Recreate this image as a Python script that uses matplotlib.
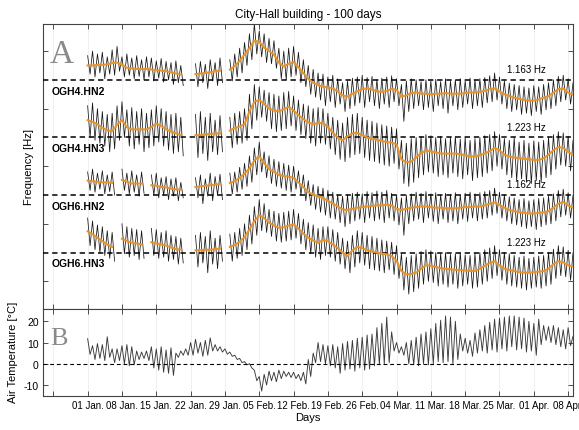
#!/usr/bin/env python3
"""City-Hall building: 100 days of modal frequencies and air temperature."""
import numpy as np
import matplotlib
matplotlib.use('Agg')
import matplotlib.pyplot as plt

nan = np.nan

DAY_TICKS = [-7, 0, 7, 14, 21, 28, 35, 42, 49, 56, 63, 70, 77, 84, 91, 98]
DAY_LABELS = ['', '01 Jan.', '08 Jan.', '15 Jan.', '22 Jan.', '29 Jan.', '05 Feb.',
              '12 Feb.', '19 Feb.', '26 Feb.', '04 Mar.', '11 Mar.', '18 Mar.',
              '25 Mar.', '01 Apr.', '08 Apr.']

STATIONS = ['OGH4.HN2', 'OGH4.HN3', 'OGH6.HN2', 'OGH6.HN3']
REF_FREQ = ['1.163 Hz', '1.223 Hz', '1.162 Hz', '1.223 Hz']

# frequency shift relative to the reference value (one tick = 1 unit), day by day
HN2_4_SMOOTH = [.25, .25, .26, .26, .27, .29, .30, .26, .21, .20,
                .19, .19, .19, .18, .17, .16, .15, .13, .11, .09,
                nan, nan, .10, .11, .12, .13, .15, .16, nan, .18,
                .24, .33, .44, .55, .68, .66, .56, .50, .44, .30,
                .23, .28, .31, .22, .12, .02, -.05, -.09, -.12, -.13,
                -.15, -.20, -.27, -.29, -.24, -.20, -.16, -.15, -.17, -.20,
                -.21, -.19, -.16, -.17, -.29, -.27, -.23, -.22, -.24, -.24,
                -.25, -.24, -.24, -.23, -.24, -.24, -.24, -.23, -.22, -.22,
                -.21, -.19, -.16, -.15, -.20, -.25, -.28, -.31, -.33, -.35,
                -.36, -.36, -.34, -.31, -.28, -.22, -.16, -.15, -.22, -.26]
HN2_4_HIGH = [.42, .50, .45, .48, .40, .52, .58, .40, .45, .38,
              .42, .35, .40, .38, .33, .37, .32, .30, .33, .25,
              nan, nan, .28, .32, .27, .35, .30, .38, nan, .35,
              .45, .55, .65, .80, .98, .85, .80, .72, .68, .55,
              .50, .55, .58, .48, .35, .25, .18, .12, .10, .05,
              .08, .02, -.05, -.02, .03, .05, .08, .04, .06, .00,
              .03, .05, .07, .02, -.08, -.02, .02, .00, -.03, .00,
              -.02, .01, -.03, .02, -.02, .00, .02, -.02, .03, .00,
              .02, .04, .07, .12, .05, -.02, -.06, -.08, -.10, -.12,
              -.14, -.10, -.12, -.08, -.05, .00, .06, .08, .02, -.05]
HN2_4_LOW = [.10, .05, .12, .02, .10, .08, .15, .05, .08, .02,
             .06, .00, .05, -.02, .03, -.04, .00, -.08, -.05, -.10,
             nan, nan, -.12, -.05, -.15, -.02, -.10, -.05, nan, -.02,
             .05, .12, .25, .35, .45, .40, .30, .28, .20, .02,
             .00, .05, .08, -.05, -.12, -.25, -.30, -.35, -.45, -.38,
             -.48, -.42, -.55, -.50, -.45, -.40, -.48, -.38, -.45, -.50,
             -.42, -.48, -.38, -.45, -.72, -.55, -.50, -.45, -.52, -.48,
             -.55, -.45, -.50, -.58, -.45, -.52, -.48, -.42, -.50, -.45,
             -.48, -.40, -.38, -.35, -.42, -.50, -.55, -.52, -.60, -.58,
             -.62, -.55, -.60, -.52, -.50, -.45, -.38, -.35, -.42, -.45]

HN3_4_SMOOTH = [.30, .27, .23, .17, .12, .11, .22, .30, .18, .14,
                .14, .14, .14, .18, .24, .20, .14, .10, .07, .04,
                nan, nan, .04, .04, .05, .06, .07, .07, nan, .12,
                .16, .19, .23, .45, .62, .65, .58, .50, .47, .45,
                .49, .53, .47, .39, .32, .26, .23, .25, .25, .18,
                .08, .00, -.05, .02, .07, .08, .04, .00, -.02, -.04,
                -.06, -.08, -.09, -.12, -.38, -.43, -.42, -.35, -.27, -.23,
                -.24, -.26, -.28, -.28, -.28, -.28, -.29, -.31, -.33, -.33,
                -.31, -.28, -.24, -.18, -.22, -.30, -.33, -.35, -.36, -.37,
                -.38, -.39, -.39, -.36, -.30, -.22, -.17, -.18, -.25, -.30]
HN3_4_HIGH = [.55, .60, .50, .45, .40, .42, .55, .62, .48, .52,
              .45, .50, .42, .48, .55, .50, .45, .40, .42, .35,
              nan, nan, .40, .45, .35, .42, .30, .38, nan, .35,
              .42, .45, .50, .75, .92, .88, .82, .78, .75, .72,
              .78, .80, .72, .65, .58, .55, .50, .52, .50, .42,
              .35, .30, .25, .35, .40, .42, .35, .30, .28, .25,
              .22, .20, .18, .15, -.05, -.10, -.02, .00, .02, .05,
              .03, .00, .02, -.02, .00, .02, -.03, .00, -.05, -.02,
              .00, .03, .05, .10, .05, -.02, -.05, .00, -.08, -.05,
              -.10, -.06, -.08, -.05, .00, .05, .10, .08, .02, -.05]
HN3_4_LOW = [.00, -.05, -.10, -.15, -.25, -.20, -.05, .00, -.15, -.20,
             -.12, -.25, -.18, -.15, -.08, -.15, -.22, -.28, -.25, -.32,
             nan, nan, -.35, -.28, -.40, -.25, -.30, -.25, nan, -.18,
             -.12, -.10, -.05, .15, .30, .35, .28, .15, .10, .12,
             .15, .20, .12, .05, -.02, -.10, -.15, -.10, -.12, -.20,
             -.30, -.38, -.42, -.35, -.30, -.28, -.35, -.40, -.42, -.45,
             -.48, -.50, -.45, -.55, -.80, -.85, -.78, -.70, -.65, -.60,
             -.62, -.68, -.65, -.70, -.62, -.68, -.72, -.65, -.75, -.70,
             -.68, -.62, -.58, -.50, -.55, -.65, -.70, -.75, -.72, -.78,
             -.80, -.75, -.78, -.70, -.65, -.55, -.48, -.50, -.58, -.62]

HN2_6_SMOOTH = [.25, .24, .23, .22, .22, .21, nan, .26, .23, .20,
                .20, .20, nan, .17, .16, .14, .13, .11, .10, .09,
                nan, nan, .14, .15, .16, .17, .18, .19, nan, .21,
                .24, .30, .37, .46, .60, .68, .55, .45, .40, .35,
                .33, .32, .30, .22, .14, .05, .00, -.02, -.05, -.10,
                -.15, -.20, -.25, -.26, -.24, -.22, -.21, -.20, -.19, -.18,
                -.18, -.17, -.18, -.24, -.26, -.24, -.22, -.21, -.20, -.20,
                -.21, -.22, -.22, -.23, -.23, -.23, -.22, -.21, -.21, -.20,
                -.20, -.18, -.15, -.13, -.17, -.22, -.26, -.28, -.30, -.31,
                -.32, -.32, -.31, -.30, -.28, -.22, -.15, -.12, -.18, -.22]
HN2_6_HIGH = [.40, .45, .38, .42, .35, .40, nan, .45, .38, .42,
              .35, .40, nan, .35, .38, .30, .32, .28, .30, .22,
              nan, nan, .30, .35, .28, .38, .32, .36, nan, .38,
              .40, .48, .55, .68, .82, .92, .75, .68, .62, .58,
              .55, .52, .50, .42, .35, .25, .18, .15, .12, .08,
              .05, .00, -.02, .00, .03, .05, .02, .06, .04, .07,
              .05, .08, .03, .00, -.05, .00, .02, .05, .03, .06,
              .02, .04, .00, .03, .01, .04, .00, .03, .05, .02,
              .04, .06, .08, .12, .05, .00, -.03, -.05, -.08, -.06,
              -.10, -.08, -.06, -.05, -.02, .02, .08, .10, .04, .00]
HN2_6_LOW = [.08, .05, .10, .02, .06, .00, nan, .08, .02, .05,
             -.02, .03, nan, .00, -.05, .00, -.08, -.02, -.10, -.05,
             nan, nan, -.05, -.15, -.02, -.10, .00, -.08, nan, .02,
             .05, .10, .15, .22, .35, .40, .30, .20, .15, .12,
             .08, .05, .10, .00, -.10, -.18, -.25, -.30, -.35, -.40,
             -.42, -.48, -.55, -.50, -.45, -.42, -.48, -.40, -.45, -.42,
             -.48, -.40, -.45, -.52, -.70, -.50, -.45, -.42, -.48, -.40,
             -.46, -.50, -.42, -.48, -.45, -.50, -.42, -.46, -.40, -.45,
             -.42, -.40, -.35, -.32, -.40, -.45, -.50, -.52, -.55, -.58,
             -.55, -.60, -.55, -.52, -.50, -.45, -.38, -.35, -.40, -.42]

HN3_6_SMOOTH = [.37, .32, .26, .20, .14, .10, nan, .24, .20, .17,
                .16, .14, nan, .18, .16, .14, .12, .09, .06, .05,
                nan, nan, .04, .04, .05, .05, .06, .07, nan, .10,
                .13, .19, .27, .40, .55, .65, .60, .52, .47, .43,
                .44, .47, .49, .42, .33, .26, .21, .17, .22, .20,
                .14, .08, .00, -.06, .04, .10, .08, .04, .02, .00,
                -.02, -.03, -.06, -.14, -.32, -.38, -.37, -.35, -.28, -.22,
                -.23, -.25, -.27, -.28, -.29, -.30, -.30, -.31, -.32, -.32,
                -.28, -.23, -.18, -.15, -.22, -.28, -.30, -.32, -.34, -.35,
                -.35, -.34, -.33, -.32, -.28, -.20, -.15, -.17, -.22, -.24]
HN3_6_HIGH = [.60, .55, .48, .45, .38, .35, nan, .50, .45, .42,
              .40, .38, nan, .42, .40, .35, .38, .30, .28, .25,
              nan, nan, .30, .35, .28, .38, .25, .30, nan, .32,
              .35, .42, .50, .65, .80, .92, .85, .75, .72, .68,
              .70, .72, .75, .68, .58, .52, .48, .42, .45, .45,
              .40, .35, .25, .20, .30, .38, .35, .30, .28, .25,
              .22, .20, .18, .12, -.02, -.08, -.05, -.02, .02, .05,
              .03, .00, -.02, .00, -.03, -.02, .00, -.04, -.05, -.02,
              .00, .05, .08, .12, .05, .00, -.02, -.05, -.08, -.06,
              -.10, -.08, -.06, -.05, .00, .06, .12, .10, .04, .00]
HN3_6_LOW = [.12, .05, .00, -.05, -.10, -.15, nan, -.02, -.08, -.05,
             -.12, -.10, nan, -.05, -.10, -.08, -.15, -.12, -.20, -.18,
             nan, nan, -.25, -.18, -.35, -.20, -.28, -.15, nan, -.15,
             -.10, -.05, .05, .15, .30, .38, .35, .28, .20, .18,
             .20, .22, .25, .15, .05, -.02, -.08, -.12, -.05, -.08,
             -.15, -.20, -.28, -.35, -.25, -.18, -.22, -.28, -.30, -.32,
             -.35, -.30, -.38, -.45, -.65, -.72, -.68, -.62, -.55, -.50,
             -.52, -.58, -.55, -.60, -.55, -.62, -.58, -.55, -.62, -.60,
             -.55, -.50, -.45, -.40, -.48, -.55, -.58, -.60, -.62, -.65,
             -.62, -.60, -.62, -.58, -.55, -.45, -.40, -.42, -.48, -.50]

# daily maximum / minimum air temperature [deg C]
TEMP_HIGH = [11.8, 8.5, 9.5, 9.0, 12.7, 7.0, 7.0, 8.5, 9.0, 8.0,
             6.0, 5.5, 6.0, 8.0, 7.0, 8.0, 6.5, 7.5, 5.0, 6.0,
             7.0, 10.0, 11.5, 10.0, 11.0, 12.2, 9.0, 8.0, 7.0, 5.5,
             4.0, 2.5, 1.0, 0.0, -3.0, -6.0, -5.0, -3.5, -4.0, -3.0,
             -3.5, -4.0, -4.0, -5.0, -4.0, 2.0, 5.0, 10.0, 9.0, 8.5,
             9.0, 8.0, 9.5, 10.5, 11.0, 12.0, 12.5, 13.5, 14.0, 17.0,
             19.0, 22.0, 15.0, 10.0, 8.0, 10.0, 11.0, 12.5, 14.0, 15.0,
             16.5, 19.0, 20.5, 22.5, 22.0, 20.0, 14.0, 12.0, 11.0, 14.5,
             16.0, 18.0, 19.5, 21.0, 21.5, 22.0, 22.5, 22.5, 22.0, 21.5,
             20.0, 19.0, 21.0, 18.0, 17.5, 18.0, 17.0, 16.0, 17.0, 13.0]
TEMP_LOW = [4.4, 2.0, 2.5, 1.5, 3.0, 0.5, 1.5, 0.0, -1.0, -0.5,
            2.0, 2.5, 1.5, -2.0, -3.0, -4.0, -4.5, -5.5, 3.0, 4.0,
            4.0, 4.0, 5.0, 3.5, 4.0, 6.0, 6.0, 5.5, 4.5, 3.5,
            2.0, 0.5, -0.5, -2.0, -8.0, -12.9, -10.0, -8.0, -8.5, -7.0,
            -6.0, -6.5, -7.0, -8.0, -9.5, -6.0, 0.5, 1.0, 0.0, -1.0,
            -2.0, -4.5, -3.0, -2.5, -3.5, -2.0, -3.0, -2.5, -1.0, -0.5,
            0.0, 0.5, 6.0, 5.0, 4.0, 0.0, -0.5, -1.0, 0.0, -0.5,
            0.0, 1.0, 0.5, 1.0, 0.0, 2.0, 6.0, 5.0, 3.5, 5.0,
            6.0, 5.0, 6.5, 5.5, 7.0, 6.0, 8.0, 6.5, 7.0, 5.5,
            6.0, 4.0, 9.0, 11.0, 10.0, 9.0, 8.0, 7.0, 8.5, 10.0]

SERIES = [(HN2_4_SMOOTH, HN2_4_HIGH, HN2_4_LOW),
          (HN3_4_SMOOTH, HN3_4_HIGH, HN3_4_LOW),
          (HN2_6_SMOOTH, HN2_6_HIGH, HN2_6_LOW),
          (HN3_6_SMOOTH, HN3_6_HIGH, HN3_6_LOW)]

ORANGE = '#e8942c'


def zigzag(high, low):
    """Interleave daily high and low values into a half-day series."""
    vals = np.empty(2 * len(high))
    vals[0::2] = high
    vals[1::2] = low
    return np.arange(len(vals)) / 2.0, vals


def style_axes(ax):
    """Inward ticks on all sides, faint vertical grid."""
    ax.tick_params(direction='in', top=True, right=True, length=3.5,
                   width=0.6, labelsize=7, pad=3, color='#333333')
    ax.set_xticks(DAY_TICKS)
    ax.set_xlim(-9.1, 99)
    ax.grid(axis='x', color='#ececec', lw=0.6)
    ax.set_axisbelow(True)
    for sp in ax.spines.values():
        sp.set_color('#444444')
        sp.set_linewidth(0.8)


def plot_data():
    plt.rcParams['font.family'] = ['Liberation Sans', 'DejaVu Sans']
    fig = plt.figure(figsize=(5.79, 4.31), dpi=100)
    ax1 = fig.add_axes([0.0743, 0.2807, 0.9154, 0.6613])
    ax2 = fig.add_axes([0.0743, 0.0789, 0.9154, 0.2019])

    days = np.arange(100)
    for k, (smooth, high, low) in enumerate(SERIES):
        t, v = zigzag(high, low)
        ax1.plot(t, v - k, color='#151515', lw=0.55, zorder=2)
        ax1.plot(days, np.array(smooth) - k, color=ORANGE, lw=1.5, zorder=4)
        ax1.axhline(-k, color='black', ls=(0, (3.5, 2.5)), lw=1.1, zorder=3)
        ax1.text(-7.3, -k - 0.1, STATIONS[k], fontsize=7.5, fontweight='bold',
                 ha='left', va='top')
        ax1.text(93.5, -k + 0.1, REF_FREQ[k], fontsize=7, ha='right',
                 va='bottom')

    style_axes(ax1)
    ax1.set_ylim(-3.98, 0.97)
    ax1.set_yticks([-3.5, -2.5, -1.5, -0.5, 0.5])
    ax1.tick_params(labelbottom=False, labelleft=False)
    ax1.set_title('City-Hall building - 100 days', fontsize=8.5, pad=5)
    ax1.text(0.013, 0.867, 'A', transform=ax1.transAxes, fontsize=24,
             family='Liberation Serif', color='#8a8a8a', va='baseline')

    t, v = zigzag(TEMP_HIGH, TEMP_LOW)
    ax2.plot(t, v, color='#3a3a3a', lw=0.65, zorder=2)
    ax2.axhline(0, color='black', ls=(0, (3.5, 2.5)), lw=0.8, zorder=3)
    style_axes(ax2)
    ax2.set_ylim(-15.2, 25.8)
    ax2.set_yticks([-10, 0, 10, 20])
    ax2.set_yticklabels(['-10', '0', '10', '20'], fontsize=7.5)
    ax2.set_xticklabels(DAY_LABELS)
    ax2.set_xlabel('Days', fontsize=8, labelpad=1)
    ax2.text(0.013, 0.598, 'B', transform=ax2.transAxes, fontsize=19,
             family='Liberation Serif', color='#8a8a8a', va='baseline')

    fig.text(29 / 579, 1 - 167 / 431, 'Frequency [Hz]', rotation=90,
             fontsize=8, ha='center', va='center')
    fig.text(13 / 579, 1 - 352 / 431, 'Air Temperature [\u00b0C]', rotation=90,
             fontsize=8, ha='center', va='center')

    fig.savefig('out.png', dpi=100)


if __name__ == '__main__':
    plot_data()
